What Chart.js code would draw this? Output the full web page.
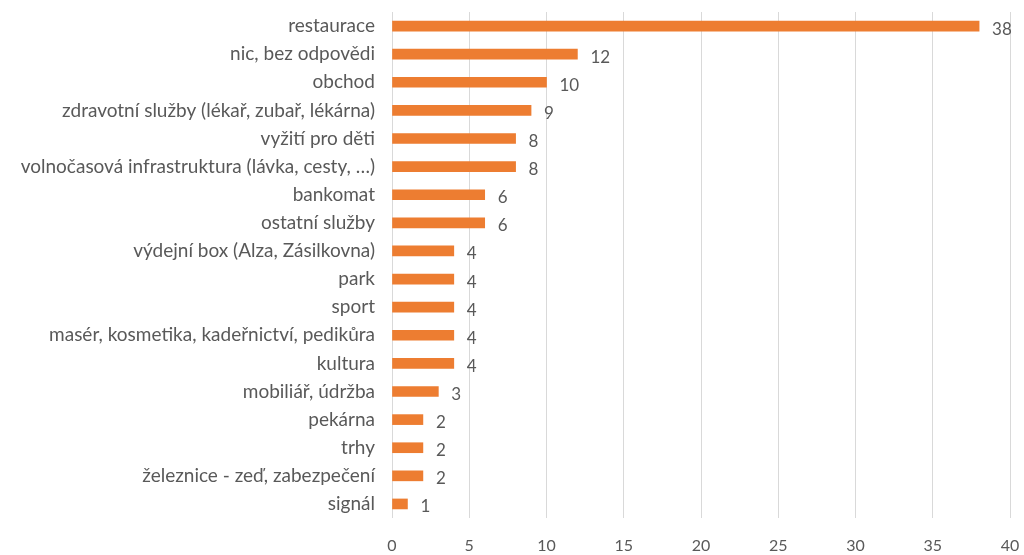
<!DOCTYPE html>
<html>
<head>
<meta charset="utf-8">
<script src="https://cdn.jsdelivr.net/npm/chart.js@4"></script>
<style>
  html, body { margin: 0; padding: 0; background: #fff; }
  #wrap { width: 1024px; height: 555px; }
</style>
</head>
<body>
<div id="wrap"><canvas id="barChart"></canvas></div>
<script>
// Data
const categories = [
    'restaurace',
    'nic, bez odpovědi',
    'obchod',
    'zdravotní služby (lékař, zubař, lékárna)',
    'vyžití pro děti',
    'volnočasová infrastruktura (lávka, cesty, …)',
    'bankomat',
    'ostatní služby',
    'výdejní box (Alza, Zásilkovna)',
    'park',
    'sport',
    'masér, kosmetika, kadeřnictví, pedikůra',
    'kultura',
    'mobiliář, údržba',
    'pekárna',
    'trhy',
    'železnice - zeď, zabezpečení',
    'signál'
];
const counts = [38, 12, 10, 9, 8, 8, 6, 6, 4, 4, 4, 4, 4, 3, 2, 2, 2, 1];
const xTicks = [0, 5, 10, 15, 20, 25, 30, 35, 40];

const fontFamily = 'Lato, "Open Sans", sans-serif';
const textColor = '#595959';

// draws the value next to each bar end
const valueLabels = {
    id: 'valueLabels',
    afterDatasetsDraw(chart) {
        const ctx = chart.ctx;
        const meta = chart.getDatasetMeta(0);
        ctx.save();
        ctx.font = '17px ' + fontFamily;
        ctx.fillStyle = textColor;
        ctx.textAlign = 'left';
        ctx.textBaseline = 'middle';
        meta.data.forEach((bar, i) => {
            ctx.fillText(String(counts[i]), bar.x + 13, bar.y + 3);
        });
        ctx.restore();
    }
};

const chart = new Chart(document.getElementById('barChart'), {
    type: 'bar',
    data: {
        labels: categories,
        datasets: [{
            data: counts,
            backgroundColor: '#ED7D31',
            barThickness: 10
        }]
    },
    options: {
        indexAxis: 'y',
        responsive: true,
        maintainAspectRatio: false,
        animation: false,
        layout: { padding: { top: 12, right: 14, bottom: 0, left: 0 } },
        plugins: {
            legend: { display: false },
            tooltip: { enabled: false }
        },
        scales: {
            x: {
                min: 0,
                max: 40,
                afterBuildTicks: axis => {
                    axis.ticks = xTicks.map(v => ({ value: v }));
                },
                afterFit: axis => {
                    axis.height = 37;
                    axis.paddingLeft = 0;
                    axis.paddingRight = 0;
                },
                grid: { color: '#d9d9d9', lineWidth: 1, drawTicks: false },
                border: { display: false },
                ticks: {
                    color: textColor,
                    padding: 18,
                    font: { family: fontFamily, size: 16 }
                }
            },
            y: {
                afterFit: axis => {
                    axis.width = 392;
                    axis.paddingTop = 0;
                    axis.paddingBottom = 0;
                },
                grid: { display: false, drawTicks: false },
                border: { display: false },
                ticks: {
                    color: textColor,
                    padding: 17,
                    autoSkip: false,
                    font: { family: fontFamily, size: 19 }
                }
            }
        }
    },
    plugins: [valueLabels]
});
</script>
</body>
</html>
